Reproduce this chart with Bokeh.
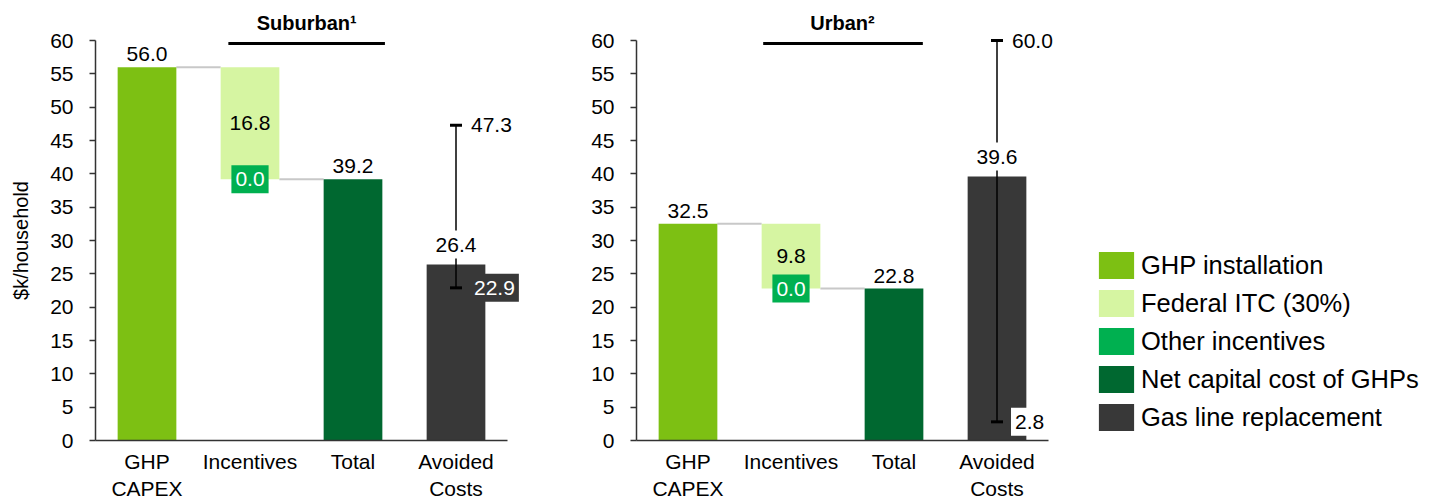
import math
from bokeh.plotting import figure
from bokeh.layouts import row
from bokeh.models import Range1d, FixedTicker, Legend, LegendItem
from bokeh.core.properties import value
from bokeh.embed import file_html
from bokeh.resources import INLINE

# ---------------- data ----------------
categories = ["GHP\nCAPEX", "Incentives", "Total", "Avoided\nCosts"]
panel_titles = ["Suburban\u00b9", "Urban\u00b2"]
ghp_capex = [56.0, 32.5]
federal_itc = [16.8, 9.8]
other_incentives = [0.0, 0.0]
net_capital_cost = [39.2, 22.8]
gas_line_replacement = [26.4, 39.6]
gas_line_low = [22.9, 2.8]
gas_line_high = [47.3, 60.0]
y_ticks = list(range(0, 61, 5))
y_title = "$k/household"
legend_labels = ["GHP installation", "Federal ITC (30%)", "Other incentives",
                 "Net capital cost of GHPs", "Gas line replacement"]

# ---------------- styles / layout ----------------
FONT = "Liberation Sans"
C_GHP = "#7dc013"
C_ITC = "#d6f5a2"
C_OTHER = "#00b050"
C_NET = "#006830"
C_GAS = "#383838"
C_CONN = "#c8c8c8"
AXIS_C = "#333333"
BW = 0.57
PX_CAT = 103.0          # pixels per category
PX_UNIT = 400.0 / 60.0  # pixels per $k
H = 500
TOP_PAD = 10
Y_END = 64.5
Y_START = Y_END - (H - TOP_PAD) / PX_UNIT
LABEL_FS = "21px"
BOX_PAD = (4, 7)
low_bg = ["#383838", "white"]
low_fg = ["white", "black"]
title_x = [1.55, 1.5]
title_line = [(0.79, 2.31), (0.73, 2.28)]


def make_panel(i, width, axis_left, show_ylabel):
    # the frame covers the whole figure; axes are pinned with fixed_location
    x_start = -0.5 - axis_left / PX_CAT
    x_end = x_start + width / PX_CAT
    p = figure(width=width, height=H, x_range=Range1d(x_start, x_end),
               y_range=Range1d(Y_START, Y_END), output_backend="svg",
               toolbar_location=None, min_border_left=0,
               min_border_right=0, min_border_top=TOP_PAD, min_border_bottom=0)
    p.outline_line_color = None
    p.grid.visible = False
    p.background_fill_color = "white"
    p.border_fill_color = "white"

    capex = ghp_capex[i]
    itc = federal_itc[i]
    oth = other_incentives[i]
    tot = net_capital_cost[i]
    gas = gas_line_replacement[i]
    lo = gas_line_low[i]
    hi = gas_line_high[i]

    # connectors
    p.segment(x0=[0 + BW / 2, 1 + BW / 2], x1=[1 - BW / 2, 2 - BW / 2],
              y0=[capex, tot + oth], y1=[capex, tot + oth],
              line_color=C_CONN, line_width=2)

    r_ghp = p.vbar(x=[0], top=[capex], bottom=[0], width=BW, fill_color=C_GHP, line_color=None)
    r_itc = p.vbar(x=[1], top=[capex], bottom=[tot + oth], width=BW, fill_color=C_ITC, line_color=None)
    r_oth = p.vbar(x=[1], top=[tot + oth], bottom=[tot], width=BW, fill_color=C_OTHER, line_color=None)
    r_net = p.vbar(x=[2], top=[tot], bottom=[0], width=BW, fill_color=C_NET, line_color=None)
    r_gas = p.vbar(x=[3], top=[gas], bottom=[0], width=BW, fill_color=C_GAS, line_color=None)

    # range whisker
    p.segment(x0=[3], x1=[3], y0=[lo], y1=[hi], line_color="black", line_width=1.5)
    p.scatter(x=[3, 3], y=[lo, hi], marker="dash", size=12, line_color="black", line_width=3)

    common = dict(text_font=value(FONT), text_font_size=LABEL_FS)
    # labels above bars
    p.text(x=[0, 2], y=[capex, tot], text=[f"{capex:.1f}", f"{tot:.1f}"],
           text_align="center", text_baseline="bottom", y_offset=-6,
           text_color="black", **common)
    p.text(x=[3], y=[gas], text=[f"{gas:.1f}"], text_align="center",
           text_baseline="bottom", y_offset=-6, text_color="black",
           background_fill_color="white", padding=BOX_PAD, **common)
    # incentives
    p.text(x=[1], y=[(capex + tot + oth) / 2], text=[f"{itc:.1f}"], text_align="center",
           text_baseline="middle", text_color="black", **common)
    p.text(x=[1], y=[tot], text=[f"{oth:.1f}"], text_align="center",
           text_baseline="middle", text_color="white",
           background_fill_color=C_OTHER, padding=BOX_PAD, **common)
    # whisker labels
    p.text(x=[3], y=[hi], text=[f"{hi:.1f}"], text_align="left", text_baseline="middle",
           x_offset=15, text_color="black", **common)
    p.text(x=[3], y=[lo], text=[f"{lo:.1f}"], text_align="left", text_baseline="middle",
           x_offset=14, text_color=low_fg[i], background_fill_color=low_bg[i],
           padding=BOX_PAD, **common)

    # panel title
    p.text(x=[title_x[i]], y=[62.7], text=[panel_titles[i]], text_align="center",
           text_baseline="middle", text_font=value(FONT), text_font_size="20px",
           text_font_style="bold", text_color="black")
    p.segment(x0=[title_line[i][0]], x1=[title_line[i][1]], y0=[59.55], y1=[59.55],
              line_color="black", line_width=3)

    # axes
    xa = p.xaxis[0]
    xa.fixed_location = 0
    xa.bounds = (-0.5, 3.5)
    xa.ticker = FixedTicker(ticks=[0, 1, 2, 3])
    xa.major_label_overrides = {k: c for k, c in enumerate(categories)}
    xa.major_tick_line_color = None
    xa.minor_tick_line_color = None
    xa.axis_line_color = AXIS_C
    xa.axis_line_width = 1.5
    xa.major_label_text_font = FONT
    xa.major_label_text_font_size = LABEL_FS
    xa.major_label_text_color = "black"
    xa.major_label_standoff = 3

    ya = p.yaxis[0]
    ya.fixed_location = -0.5
    ya.bounds = (0, 60)
    ya.ticker = FixedTicker(ticks=y_ticks)
    ya.major_tick_out = 6
    ya.major_tick_in = 0
    ya.minor_tick_line_color = None
    ya.major_tick_line_color = AXIS_C
    ya.major_tick_line_width = 1.5
    ya.axis_line_color = AXIS_C
    ya.axis_line_width = 1.5
    ya.major_label_text_font = FONT
    ya.major_label_text_font_size = LABEL_FS
    ya.major_label_text_color = "black"
    ya.major_label_standoff = 16
    if show_ylabel:
        p.text(x=[-0.5 - 75 / PX_CAT], y=[30], text=[y_title], angle=math.pi / 2,
               text_align="center", text_baseline="middle", text_font=value(FONT),
               text_font_size="20px", text_color="black")
    return p, [r_ghp, r_itc, r_oth, r_net, r_gas]


p1, _ = make_panel(0, 545, 95, True)
p2, rends = make_panel(1, 885, 91, False)

legend = Legend(items=[LegendItem(label=lab, renderers=[r]) for lab, r in zip(legend_labels, rends)],
                location=(549, 66), orientation="vertical", glyph_width=44, glyph_height=34,
                spacing=4, label_standoff=3, padding=0, margin=0,
                label_text_font=FONT, label_text_font_size="25.5px", label_text_color="black",
                border_line_color=None, background_fill_alpha=0)
p2.add_layout(legend)

layout = row(p1, p2)
open("out.html", "w").write(file_html(layout, INLINE))
